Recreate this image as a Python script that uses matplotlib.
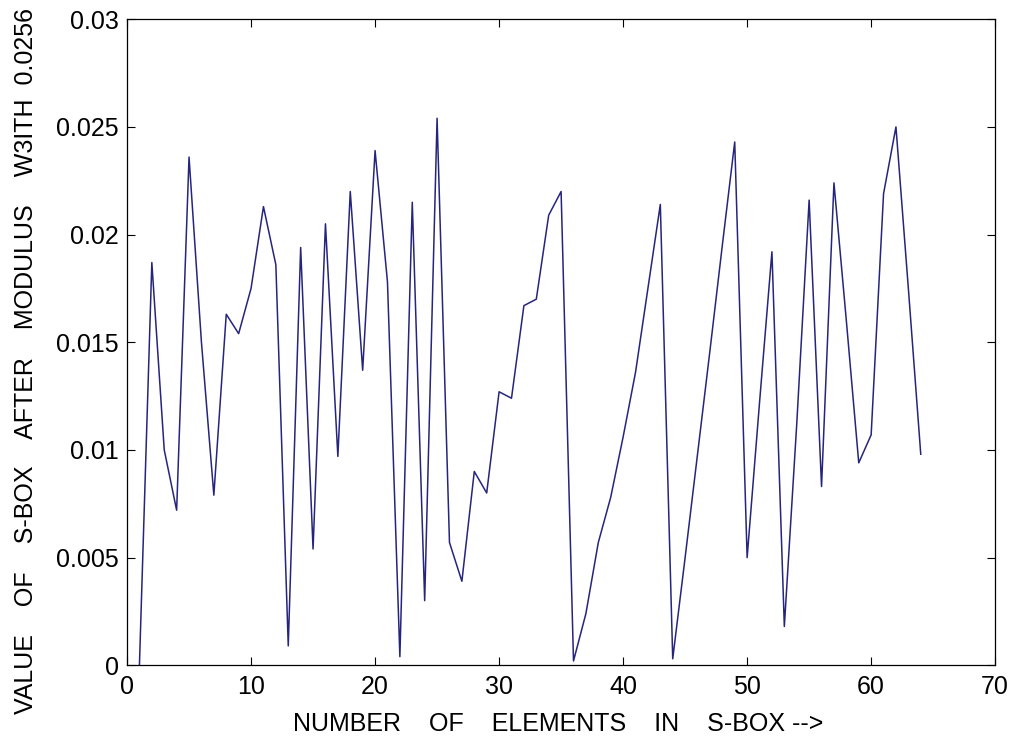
import matplotlib
matplotlib.use("Agg")
import matplotlib.pyplot as plt

plt.rcParams['font.family'] = ['Liberation Sans', 'DejaVu Sans']

# elementos da S-box (1..64) e valores apos modulo
elementos = list(range(1, 65))
valores = [
    0.0000, 0.0187, 0.0100, 0.0072, 0.0236, 0.0150, 0.0079, 0.0163,
    0.0154, 0.0175, 0.0213, 0.0186, 0.0009, 0.0194, 0.0054, 0.0205,
    0.0097, 0.0220, 0.0137, 0.0239, 0.0178, 0.0004, 0.0215, 0.0030,
    0.0254, 0.0057, 0.0039, 0.0090, 0.0080, 0.0127, 0.0124, 0.0167,
    0.0170, 0.0209, 0.0220, 0.0002, 0.0024, 0.0057, 0.0078, 0.0106,
    0.0136, 0.0175, 0.0214, 0.0003, 0.0050, 0.0098, 0.0146, 0.0195,
    0.0243, 0.0050, 0.0122, 0.0192, 0.0018, 0.0112, 0.0216, 0.0083,
    0.0224, 0.0160, 0.0094, 0.0107, 0.0219, 0.0250, 0.0175, 0.0098,
]

xticks = [0, 10, 20, 30, 40, 50, 60, 70]
yticks = [0, 0.005, 0.01, 0.015, 0.02, 0.025, 0.03]
yticklabels = ['0', '0.005', '0.01', '0.015', '0.02', '0.025', '0.03']

fig = plt.figure(figsize=(10.13, 7.40), dpi=100)
ax = fig.add_axes([0.1254, 0.101, 0.857, 0.873])

ax.plot(elementos, valores, color='#25257d', linewidth=1.1)

ax.set_xlim(0, 70)
ax.set_ylim(0, 0.03)
ax.set_xticks(xticks)
ax.set_yticks(yticks)
ax.set_yticklabels(yticklabels)
ax.tick_params(direction='in', top=True, right=True, length=6,
               labelsize=18, colors='black')
ax.tick_params(axis='y', pad=6)
ax.tick_params(axis='x', pad=7)
for s in ax.spines.values():
    s.set_linewidth(0.9)

ax.set_xlabel('NUMBER    OF    ELEMENTS    IN    S-BOX -->', fontsize=18)
ax.set_ylabel('VALUE    OF    S-BOX    AFTER    MODULUS    W3ITH  0.0256', fontsize=18)
ax.xaxis.set_label_coords(0.497, -0.073)
ax.yaxis.set_label_coords(-0.1025, 0.471)

fig.savefig('out.png', dpi=100)
